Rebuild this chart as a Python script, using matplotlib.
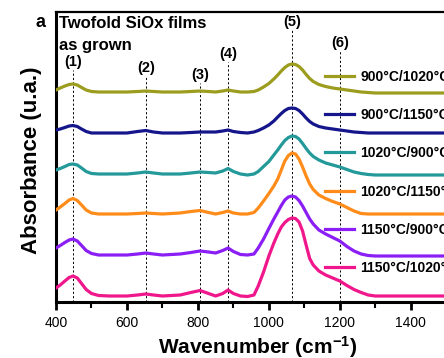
"""Twofold SiOx films as grown: FTIR absorbance spectra (stacked)."""
import matplotlib
matplotlib.use("Agg")
import matplotlib.pyplot as plt
from matplotlib.ticker import MultipleLocator

plt.rcParams["font.family"] = ["Liberation Sans", "DejaVu Sans"]
plt.rcParams["mathtext.fontset"] = "custom"
plt.rcParams["mathtext.rm"] = "Liberation Sans:bold"
plt.rcParams["mathtext.bf"] = "Liberation Sans:bold"
plt.rcParams["mathtext.default"] = "bf"

# wavenumber grid (cm-1) and stacked absorbance (arbitrary units, offset per sample)
wavenumber = [400, 412, 425, 437, 448, 460, 472, 485, 500, 520, 550, 600, 630, 653, 675, 700,
              750, 780, 806, 830, 850, 870, 885, 900, 920, 940, 958, 970, 985, 1000, 1014, 1025,
              1035, 1045, 1055, 1065, 1075, 1085, 1095, 1105, 1115, 1125, 1141, 1160, 1180, 1200,
              1220, 1240, 1260, 1280, 1300, 1400, 1500, 1600]
abs_900_1020 = [212, 214, 216, 217.5, 218, 217, 214.5, 212, 210.5, 210, 210, 210, 210.5, 211, 210.5, 210,
                210, 210.5, 211, 210.5, 210, 211, 212, 211, 210, 210, 210.5, 212, 215, 218.5, 223, 227,
                231, 234.5, 237, 238, 237.5, 235.5, 232, 227.5, 223.5, 220.5, 217.5, 215.5, 214, 213,
                212, 211, 210, 209.5, 209, 209, 209, 209]
abs_900_1150 = [172, 173, 174.5, 176, 176.5, 175.5, 173, 170.5, 169, 169, 169, 169, 170.5, 171.5, 170, 169,
                169, 169.5, 170, 170, 170, 171, 172, 170.5, 169.5, 169, 170, 171.5, 174, 177, 181, 185,
                188.5, 191.5, 193.5, 194, 193.5, 191.5, 188, 184, 180.5, 178, 175.5, 174, 173, 172,
                171, 170, 169.5, 169, 169, 169, 169, 169]
abs_1020_900 = [132, 133.5, 135.5, 137.5, 138, 137, 134, 130.5, 128.5, 128, 128, 128, 129, 130, 129, 128,
                128, 129, 130, 129.5, 129, 131, 133.5, 130.5, 128, 127, 128, 130.5, 135.5, 140.5, 147, 152,
                157, 161.5, 164.5, 166, 165.5, 163, 158.5, 153.5, 149, 145.5, 142, 139, 137, 135,
                132.5, 130, 128.5, 127.5, 127, 127, 127, 127]
abs_1020_1150 = [92, 95, 98.5, 102, 103.5, 101.5, 97, 92, 89, 88, 88, 88, 88.5, 89, 88.5, 88,
                 89, 90.5, 91.5, 89.5, 88, 89.5, 91, 89, 88, 88, 89.5, 94, 101, 108.5, 116, 123,
                 132, 141, 146.5, 149, 148, 143, 135, 126, 118, 112.5, 107, 103.5, 100.5, 98,
                 94.5, 91, 88.5, 88, 88, 88, 88, 88]
abs_1150_900 = [54, 56.5, 59.5, 62, 63, 61, 56.5, 51.5, 48.5, 47, 47, 47, 48, 49, 48, 47,
                48, 49.5, 51, 50, 49, 51.5, 54, 50.5, 47.5, 47, 48, 54, 63, 73.5, 83, 90,
                96.5, 102, 105, 106, 105, 101.5, 96, 89.5, 83, 78, 72, 68, 64.5, 61,
                55.5, 51, 48, 46.5, 46, 46, 46, 46]
abs_1150_1020 = [14, 17, 21, 24.5, 26, 24, 18.5, 12.5, 8.5, 6.5, 6, 6, 7, 8, 7, 6,
                 7, 9.5, 11.5, 8.5, 6, 8.5, 12, 8.5, 6, 5.5, 7, 16, 30, 46, 59, 68,
                 75, 79.5, 82.5, 84, 83.5, 80, 71, 57, 43.5, 37, 31, 27, 24, 21,
                 16.5, 12.5, 9.5, 7, 6, 6, 6, 6]

series = [abs_900_1020, abs_900_1150, abs_1020_900, abs_1020_1150, abs_1150_900, abs_1150_1020]
labels = ["900°C/1020°C", "900°C/1150°C", "1020°C/900°C", "1020°C/1150°C", "1150°C/900°C", "1150°C/1020°C"]
colors = ["#9C9C1E", "#16168C", "#23999A", "#FF8C1A", "#8A1EF5", "#F0168C"]

# assigned bands: position (cm-1), label height and top of the dashed line (axes fraction)
band_pos = [448, 653, 806, 885, 1065, 1200]
band_names = ["(1)", "(2)", "(3)", "(4)", "(5)", "(6)"]
band_label_y = [0.828, 0.807, 0.783, 0.855, 0.966, 0.893]
band_line_top = [0.800, 0.778, 0.754, 0.828, 0.937, 0.864]

fig = plt.figure(figsize=(4.44, 3.58), dpi=100)
ax = fig.add_axes([56 / 444, 56 / 358, 408 / 444, 290 / 358])

for pos, name, ly, top in zip(band_pos, band_names, band_label_y, band_line_top):
    ax.axvline(pos, ymin=0, ymax=top, color="black", lw=0.7, ls=(0, (2.2, 2.2)), zorder=1)
    ax.text(pos, ly, name, transform=ax.get_xaxis_transform(), ha="center", va="center",
            fontsize=10.5, fontweight="bold")

handles = []
for y, lab, c in zip(series, labels, colors):
    h, = ax.plot(wavenumber, y, color=c, lw=2.3, label=lab, zorder=3, solid_joinstyle="round")
    handles.append(h)

ax.legend(handles=handles, loc="upper left", bbox_to_anchor=(0.659, 0.80), frameon=False,
          prop={"weight": "bold", "size": 10}, handlelength=2.1, handletextpad=0.45,
          labelspacing=1.74, borderpad=0, borderaxespad=0)

ax.set_xlim(400, 1550)
ax.set_ylim(0, 290)
ax.set_yticks([])
ax.xaxis.set_major_locator(MultipleLocator(200))
ax.xaxis.set_minor_locator(MultipleLocator(100))
ax.tick_params(axis="x", which="major", direction="out", length=6, width=2, labelsize=10, pad=4)
ax.tick_params(axis="x", which="minor", direction="out", length=4, width=1.5)
ax.spines["left"].set_linewidth(2.2)
ax.spines["bottom"].set_linewidth(2.2)
ax.spines["top"].set_linewidth(1.6)
ax.spines["right"].set_visible(False)

ax.text(0.007, 0.945, "Twofold SiOx films", transform=ax.transAxes, fontsize=12,
        fontweight="bold", va="baseline")
ax.text(0.007, 0.869, "as grown", transform=ax.transAxes, fontsize=12,
        fontweight="bold", va="baseline")
fig.text(35 / 444, 1 - 27 / 358, "a", fontsize=13, fontweight="bold", va="baseline")
fig.text(32 / 444, 1 - 160 / 358, "Absorbance (u.a.)", rotation=90, ha="center", va="center",
         fontsize=16, fontweight="bold")
fig.text(258 / 444, 1 - 354 / 358, r"Wavenumber (cm$^{-1}$)", ha="center", va="baseline",
         fontsize=15, fontweight="bold")

fig.savefig("out.png", dpi=100)
